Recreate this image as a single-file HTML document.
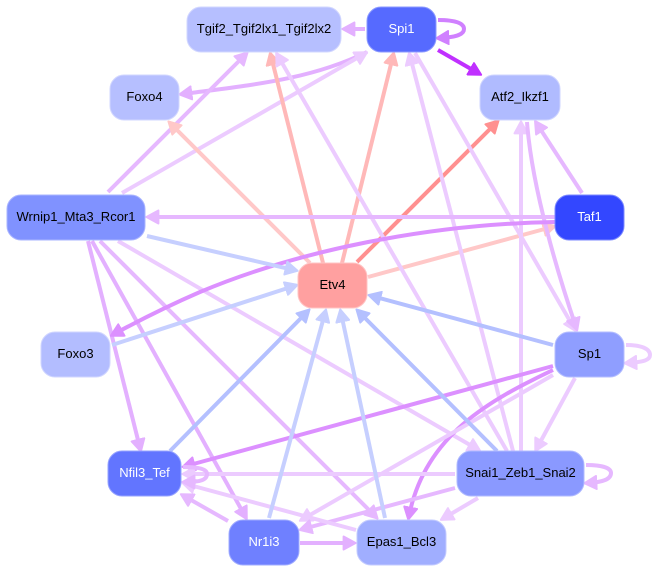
<!DOCTYPE html>
<html><head><meta charset="utf-8">
<style>
html,body{margin:0;padding:0;background:#fff;width:655px;height:572px;overflow:hidden}
svg{display:block}
path{fill:none;stroke-width:4}
text{font-family:"Liberation Sans",sans-serif;font-size:13px;text-anchor:middle}
rect{stroke-width:1}
polygon{stroke-width:2;stroke-linejoin:round}
.a{stroke:#e6b8ff;marker-end:url(#ma)}
.b{stroke:#eccbff;marker-end:url(#mb)}
.c{stroke:#dc90ff;marker-end:url(#mc)}
.d{stroke:#ffb8b8;marker-end:url(#md)}
.e{stroke:#ffc8c8;marker-end:url(#me)}
.f{stroke:#ff9090;marker-end:url(#mf)}
.g{stroke:#c6cfff;marker-end:url(#mg)}
.h{stroke:#b4c0ff;marker-end:url(#mh)}
.i{stroke:#d080ff;marker-end:url(#mi)}
.j{stroke:#c030ff;marker-end:url(#mj)}
.k{stroke:#e3b0ff;marker-end:url(#mk)}
</style></head><body>
<svg width="655" height="572" viewBox="0 0 655 572" xmlns="http://www.w3.org/2000/svg">
<defs>
<marker id="ma" markerUnits="userSpaceOnUse" markerWidth="15" markerHeight="15" viewBox="0 0 15 15" refX="9.4" refY="7.5" orient="auto"><polygon points="1,1 13,7.500 1,14" fill="#e6b8ff" stroke="#e6b8ff"/></marker>
<marker id="mb" markerUnits="userSpaceOnUse" markerWidth="15" markerHeight="15" viewBox="0 0 15 15" refX="9.4" refY="7.5" orient="auto"><polygon points="1,1 13,7.500 1,14" fill="#eccbff" stroke="#eccbff"/></marker>
<marker id="mc" markerUnits="userSpaceOnUse" markerWidth="15" markerHeight="15" viewBox="0 0 15 15" refX="9.4" refY="7.5" orient="auto"><polygon points="1,1 13,7.500 1,14" fill="#dc90ff" stroke="#dc90ff"/></marker>
<marker id="md" markerUnits="userSpaceOnUse" markerWidth="15" markerHeight="15" viewBox="0 0 15 15" refX="9.4" refY="7.5" orient="auto"><polygon points="1,1 13,7.500 1,14" fill="#ffb8b8" stroke="#ffb8b8"/></marker>
<marker id="me" markerUnits="userSpaceOnUse" markerWidth="15" markerHeight="15" viewBox="0 0 15 15" refX="9.4" refY="7.5" orient="auto"><polygon points="1,1 13,7.500 1,14" fill="#ffc8c8" stroke="#ffc8c8"/></marker>
<marker id="mf" markerUnits="userSpaceOnUse" markerWidth="15" markerHeight="15" viewBox="0 0 15 15" refX="9.4" refY="7.5" orient="auto"><polygon points="1,1 13,7.500 1,14" fill="#ff9090" stroke="#ff9090"/></marker>
<marker id="mg" markerUnits="userSpaceOnUse" markerWidth="15" markerHeight="15" viewBox="0 0 15 15" refX="9.4" refY="7.5" orient="auto"><polygon points="1,1 13,7.500 1,14" fill="#c6cfff" stroke="#c6cfff"/></marker>
<marker id="mh" markerUnits="userSpaceOnUse" markerWidth="15" markerHeight="15" viewBox="0 0 15 15" refX="9.4" refY="7.5" orient="auto"><polygon points="1,1 13,7.500 1,14" fill="#b4c0ff" stroke="#b4c0ff"/></marker>
<marker id="mi" markerUnits="userSpaceOnUse" markerWidth="15" markerHeight="15" viewBox="0 0 15 15" refX="9.4" refY="7.5" orient="auto"><polygon points="1,1 13,7.500 1,14" fill="#d080ff" stroke="#d080ff"/></marker>
<marker id="mj" markerUnits="userSpaceOnUse" markerWidth="15" markerHeight="15" viewBox="0 0 15 15" refX="9.4" refY="7.5" orient="auto"><polygon points="1,1 13,7.500 1,14" fill="#c030ff" stroke="#c030ff"/></marker>
<marker id="mk" markerUnits="userSpaceOnUse" markerWidth="15" markerHeight="15" viewBox="0 0 15 15" refX="9.4" refY="7.5" orient="auto"><polygon points="1,1 13,7.500 1,14" fill="#e3b0ff" stroke="#e3b0ff"/></marker>
</defs>

<!-- edges -->
<path class="k" d="M365 29L346 29"/>
<path class="i" d="M438 20C455 20 464 23 464 29C464 34 458 37 440 38"/>
<path class="j" d="M438 50L478 73"/>
<path class="k" d="M367 52C310 80 250 85 183 94"/>
<path class="a" d="M108 192L245 55"/>
<path class="b" d="M122 193L364 54"/>
<path class="d" d="M323 263L271 56"/>
<path class="d" d="M342 263L393 56"/>
<path class="e" d="M310 263L171 124"/>
<path class="f" d="M357 262L496 123"/>
<path class="e" d="M368 277L552 227"/>
<path class="b" d="M507 451L278 56"/>
<path class="b" d="M513 451L410 56"/>
<path class="b" d="M415 53L574 328"/>
<path class="a" d="M582 193L537 124"/>
<path class="b" d="M521 451L521 125"/>
<path class="a" d="M527 122C532 190 560 280 576 327"/>
<path class="a" d="M555 217L150 217"/>
<path class="k" d="M88 241L140 448"/>
<path class="k" d="M92 241L245 516"/>
<path class="a" d="M100 241L375 516"/>
<path class="b" d="M118 241L477 449"/>
<path class="c" d="M555 222C430 224 300 250 200 292C170 305 140 320 114 334"/>
<path class="c" d="M553 366L186 466"/>
<path class="c" d="M553 370C490 400 425 435 409 516"/>
<path class="b" d="M553 375L303 519"/>
<path class="b" d="M575 378L537 448"/>
<path class="b" d="M626 345C642 345 650 349 650 355C650 360 644 362 628 363"/>
<path class="a" d="M586 465C602 465 611 468 611 473C611 479 604 482 588 483"/>
<path class="a" d="M455 488L303 529"/>
<path class="b" d="M478 498L444 518"/>
<path class="b" d="M455 474L186 474"/>
<path class="b" d="M356 530L186 484"/>
<path class="a" d="M228 521L184 496"/>
<path class="k" d="M300 543L352 543"/>
<path class="a" d="M183 467C199 467 207 469 207 474C207 480 200 482 186 482"/>
<path class="g" d="M147 236L294 270"/>
<path class="g" d="M112 345L294 286"/>
<path class="h" d="M170 451L307 312"/>
<path class="g" d="M269 518L325 313"/>
<path class="g" d="M385 518L341 313"/>
<path class="h" d="M497 451L359 312"/>
<path class="h" d="M553 345L372 296"/>

<!-- nodes -->
<rect x="187" y="7" width="154" height="45" rx="14" fill="#b6bfff" stroke="#d2d7ff"/>
<text x="264" y="33" fill="#000">Tgif2_Tgif2lx1_Tgif2lx2</text>
<rect x="367" y="7" width="69" height="45" rx="14" fill="#566aff" stroke="#8c9aff"/>
<text x="401.500" y="33" fill="#fff">Spi1</text>
<rect x="480" y="75" width="80" height="45" rx="14" fill="#b0bbff" stroke="#cfd5ff"/>
<text x="520" y="101" fill="#000">Atf2_Ikzf1</text>
<rect x="110" y="75" width="69" height="45" rx="14" fill="#b6bfff" stroke="#d2d7ff"/>
<text x="144.500" y="101" fill="#000">Foxo4</text>
<rect x="7" y="195" width="138" height="45" rx="14" fill="#8092ff" stroke="#aab5ff"/>
<text x="76" y="221" fill="#000">Wrnip1_Mta3_Rcor1</text>
<rect x="555" y="195" width="69" height="45" rx="14" fill="#3347ff" stroke="#7c8aff"/>
<text x="589.500" y="221" fill="#fff">Taf1</text>
<rect x="298" y="263" width="69" height="45" rx="14" fill="#ffa0a0" stroke="#ffc4c4"/>
<text x="332.500" y="289" fill="#000">Etv4</text>
<rect x="41" y="332" width="69" height="45" rx="14" fill="#b3bdff" stroke="#d0d6ff"/>
<text x="75.500" y="358" fill="#000">Foxo3</text>
<rect x="555" y="332" width="69" height="45" rx="14" fill="#8f9eff" stroke="#b4beff"/>
<text x="589.500" y="358" fill="#000">Sp1</text>
<rect x="108" y="451" width="73" height="45" rx="14" fill="#6275ff" stroke="#96a3ff"/>
<text x="144.500" y="477" fill="#fff">Nfil3_Tef</text>
<rect x="457" y="451" width="127" height="45" rx="14" fill="#8a99ff" stroke="#b0baff"/>
<text x="520.500" y="477" fill="#000">Snai1_Zeb1_Snai2</text>
<rect x="229" y="520" width="70" height="45" rx="14" fill="#6f80ff" stroke="#a0acff"/>
<text x="264" y="546" fill="#fff">Nr1i3</text>
<rect x="357" y="520" width="89" height="45" rx="14" fill="#a0aeff" stroke="#c3cbff"/>
<text x="401.500" y="546" fill="#000">Epas1_Bcl3</text>
</svg>
</body></html>
